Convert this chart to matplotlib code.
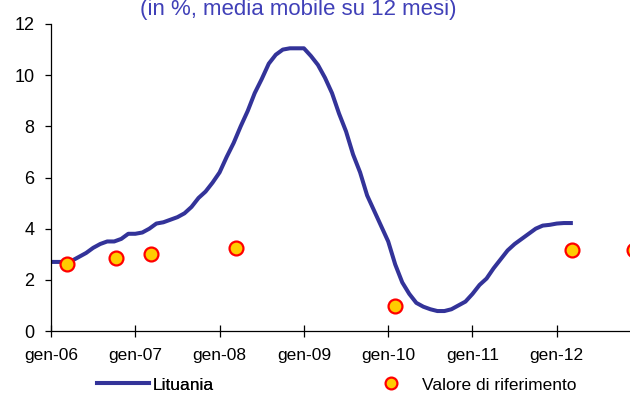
import numpy as np
import matplotlib
matplotlib.use('Agg')
import matplotlib.pyplot as plt

# Lituania: media mobile su 12 mesi (in %), mensile da gen-06 a mar-12
lituania = [2.7, 2.7, 2.7, 2.75, 2.9, 3.05, 3.25, 3.4, 3.5, 3.5, 3.6, 3.8,
            3.8, 3.85, 4.0, 4.2, 4.25, 4.35, 4.45, 4.6, 4.85, 5.2, 5.45, 5.8,
            6.2, 6.8, 7.35, 8.0, 8.6, 9.3, 9.85, 10.45, 10.8, 11.0, 11.05, 11.05,
            11.05, 10.75, 10.4, 9.9, 9.3, 8.5, 7.8, 6.9, 6.2, 5.3, 4.7, 4.1,
            3.5, 2.6, 1.9, 1.45, 1.1, 0.95, 0.85, 0.78, 0.78, 0.85, 1.0, 1.15,
            1.45, 1.8, 2.05, 2.45, 2.8, 3.15, 3.4, 3.6, 3.8, 4.0, 4.12, 4.15,
            4.2, 4.22, 4.22]
lituania_mesi = np.arange(len(lituania))

# Valore di riferimento (mese dall'inizio del 2006, valore)
rif_mesi = [2.3, 9.3, 14.3, 26.3, 49.0, 74.1, 83.0]
rif_valori = [2.62, 2.85, 3.0, 3.24, 0.98, 3.16, 3.16]

tick_mesi = [0, 12, 24, 36, 48, 60, 72]
tick_labels = ['gen-06', 'gen-07', 'gen-08', 'gen-09', 'gen-10', 'gen-11', 'gen-12']

plt.rcParams['font.family'] = ['Liberation Sans', 'DejaVu Sans']

fig = plt.figure(figsize=(6.3, 3.94), dpi=100)
ax = fig.add_axes([51 / 630, 63 / 394, 1 - 51 / 630, (331 - 24) / 394])

line, = ax.plot(lituania_mesi, lituania, color='#333399', lw=2.9,
                solid_joinstyle='round', label='Lituania')
dots, = ax.plot(rif_mesi, rif_valori, ls='none', marker='o', ms=10,
                mfc='#FFCC00', mec='#FF0000', mew=1.6, clip_on=False,
                label='Valore di riferimento')

ax.set_xlim(0, (630 - 51) / 7.025)
ax.set_ylim(0, 12)
ax.set_yticks([0, 2, 4, 6, 8, 10, 12])
ax.set_xticks(tick_mesi)
ax.set_xticklabels(tick_labels)

for s in ['top', 'right']:
    ax.spines[s].set_visible(False)
for s in ['left', 'bottom']:
    ax.spines[s].set_linewidth(0.9)
    ax.spines[s].set_color('black')

ax.tick_params(axis='y', direction='out', length=4, width=0.9, pad=8, labelsize=13)
ax.tick_params(axis='x', direction='inout', length=9, width=0.9, pad=8, labelsize=12.5)

fig.text(298 / 630, 1 - 15 / 394, '(in %, media mobile su 12 mesi)',
         color='#4040B8', fontsize=16, ha='center', va='baseline')

leg1 = fig.legend(handles=[line], loc='center left', frameon=False,
                  bbox_to_anchor=(97 / 630, 1 - 385 / 394), borderpad=0,
                  borderaxespad=0, handlelength=3.0, handletextpad=0.2,
                  fontsize=12.5)
fig.add_artist(leg1)
fig.legend(handles=[dots], loc='center left', frameon=False,
           bbox_to_anchor=(365 / 630, 1 - 385 / 394), borderpad=0,
           borderaxespad=0, handlelength=3.0, handletextpad=0.3,
           fontsize=12.5, markerscale=0.85)

fig.savefig('out.png', dpi=100)
